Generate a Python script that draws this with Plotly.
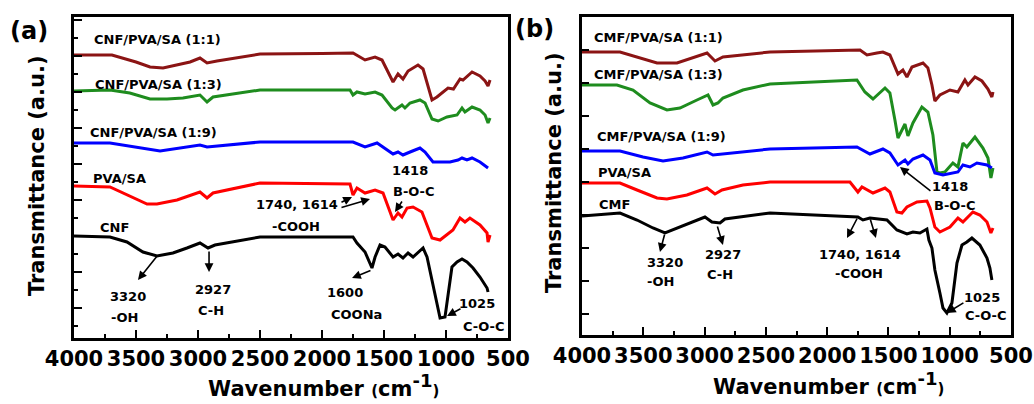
import plotly.graph_objects as go

# ---------------- Panel (a) data: wavenumber (cm-1) and transmittance (a.u., offset) -------------
a_11_wn = [4000, 3694, 3500, 3387, 3282, 3169, 3064, 2984, 2927, 2847, 2500, 2000, 1750, 1653, 1572, 1516,
           1427, 1387, 1347, 1306, 1226, 1185, 1113, 1073, 984, 940, 887, 863, 790, 726, 685, 661, 645]
a_11_t = [283, 283, 276, 271, 270, 273, 276, 280, 275, 277, 284, 284.5, 285, 278, 281, 278,
          256, 264, 259, 267, 273, 269, 238, 241, 250, 249, 259, 258, 266, 262, 257, 252, 258]

a_13_wn = [4000, 3710, 3550, 3387, 3250, 3121, 2984, 2927, 2879, 2500, 1774, 1750, 1718, 1653, 1572, 1516,
           1435, 1411, 1355, 1331, 1290, 1210, 1169, 1113, 1064, 992, 911, 871, 847, 790, 726, 685, 661, 645]
a_13_t = [247, 248, 245, 239, 239, 240, 243, 236, 241, 248, 248, 243, 246, 244, 246, 243,
          230, 228, 233, 230, 235, 238, 235, 219, 217, 221, 223, 230, 226, 231, 228, 223, 215, 220]

a_19_wn = [4000, 3710, 3306, 2984, 2927, 2500, 1750, 1653, 1556, 1508, 1427, 1387, 1347, 1290, 1210, 1169,
           1105, 968, 903, 871, 831, 790, 726, 661]
a_19_t = [195, 195, 187, 193, 191, 196, 196, 191, 195, 191, 184, 186, 183, 186, 190, 186,
          176, 176, 178, 180, 178, 180, 176, 170]

a_ps_wn = [4000, 3710, 3411, 3331, 3169, 2984, 2927, 2879, 2500, 1774, 1750, 1718, 1653, 1572, 1508, 1427,
           1387, 1355, 1314, 1266, 1194, 1113, 1048, 992, 944, 887, 847, 807, 726, 669, 661, 645]
a_ps_t = [152, 151, 134, 134, 138, 146, 140, 145, 155, 154, 143, 150, 145, 148, 145, 118,
          125, 121, 130, 131, 126, 100, 98, 103, 108, 120, 116, 120, 113, 105, 96, 103]

a_cnf_wn = [4000, 3710, 3573, 3444, 3331, 3202, 3089, 2984, 2919, 2863, 2500, 2000, 1750, 1718, 1653, 1597,
            1572, 1532, 1492, 1427, 1387, 1347, 1306, 1266, 1185, 1153, 1113, 1073, 1048, 1008, 984, 952,
            911, 871, 831, 782, 726, 669, 661]
a_cnf_t = [102, 101, 96, 86, 82, 85, 90, 95, 90, 93, 101, 101, 101, 95, 86, 70,
           81, 93, 91, 81, 84, 80, 85, 81, 90, 81, 58, 36, 20, 21, 45, 71,
           76, 79, 76, 70, 61, 50, 46]

# ---------------- Panel (b) data -------------
b_11_wn = [4000, 3690, 3388, 3225, 2980, 2915, 2850, 2466, 1732, 1675, 1594, 1545, 1488, 1422, 1382, 1349,
           1308, 1218, 1178, 1145, 1121, 1080, 998, 933, 876, 851, 794, 737, 688, 656, 647]
b_11_t = [283, 283, 272, 272, 282, 274, 278, 283, 285, 280, 282, 283, 280, 261, 265, 258,
          268, 272, 267, 250, 234, 240, 245, 243, 255, 250, 258, 254, 246, 238, 243]

b_13_wn = [4000, 3715, 3584, 3445, 3307, 3201, 3062, 2972, 2931, 2891, 2850, 2687, 2466, 1757, 1692, 1626,
           1528, 1488, 1447, 1422, 1365, 1341, 1300, 1227, 1178, 1137, 1104, 1080, 1039, 974, 933, 892,
           860, 794, 729, 688, 664, 647]
b_13_t = [250, 250, 245, 232, 225, 227, 235, 240, 230, 232, 237, 245, 251, 255, 243, 236,
          247, 242, 215, 197, 211, 199, 212, 228, 223, 200, 163, 162, 163, 172, 168, 192,
          188, 198, 187, 177, 157, 167]

b_19_wn = [4000, 3690, 3502, 3339, 3176, 2980, 2931, 2466, 1757, 1651, 1545, 1488, 1422, 1365, 1341, 1300,
           1218, 1161, 1121, 1055, 933, 892, 835, 778, 696, 656]
b_19_t = [184, 184, 178, 174, 177, 183, 180, 186, 188, 181, 186, 182, 170, 175, 171, 176,
          180, 175, 162, 160, 163, 170, 168, 172, 170, 167]

b_ps_wn = [4000, 3690, 3551, 3388, 3307, 3144, 2980, 2915, 2858, 2687, 2466, 1814, 1749, 1716, 1626, 1528,
           1488, 1431, 1390, 1349, 1267, 1186, 1161, 1121, 1080, 998, 933, 892, 811, 754, 696, 664, 647]
b_ps_t = [152, 152, 145, 137, 136, 140, 147, 141, 145, 150, 153, 153, 143, 148, 142, 147,
          143, 123, 122, 128, 133, 134, 127, 108, 103, 108, 117, 113, 123, 120, 113, 102, 107]

b_cmf_wn = [4000, 3690, 3551, 3421, 3323, 3225, 3095, 2997, 2940, 2874, 2834, 2466, 1749, 1708, 1651, 1512,
            1431, 1349, 1300, 1243, 1186, 1170, 1145, 1121, 1080, 1055, 1023, 982, 941, 900, 860, 819,
            754, 696, 672, 656]
b_cmf_t = [119, 122, 115, 107, 102, 107, 113, 118, 113, 112, 116, 122, 118, 115, 117, 115,
           105, 101, 103, 102, 106, 95, 87, 65, 42, 27, 22, 32, 72, 90, 93, 97,
           90, 77, 67, 55]

x_tickvals = [4000, 3500, 3000, 2500, 2000, 1500, 1000, 500]
x_ticklabels = ["4000", "3500", "3000", "2500", "2000", "1500", "1000", "500"]

series_a = [("CNF/PVA/SA (1:1)", a_11_wn, a_11_t, "#8B1414"),
            ("CNF/PVA/SA (1:3)", a_13_wn, a_13_t, "#1E8C1E"),
            ("CNF/PVA/SA (1:9)", a_19_wn, a_19_t, "#0000FF"),
            ("PVA/SA", a_ps_wn, a_ps_t, "#FF0000"),
            ("CNF", a_cnf_wn, a_cnf_t, "#000000")]
series_b = [("CMF/PVA/SA (1:1)", b_11_wn, b_11_t, "#8B1414"),
            ("CMF/PVA/SA (1:3)", b_13_wn, b_13_t, "#1E8C1E"),
            ("CMF/PVA/SA (1:9)", b_19_wn, b_19_t, "#0000FF"),
            ("PVA/SA", b_ps_wn, b_ps_t, "#FF0000"),
            ("CMF", b_cmf_wn, b_cmf_t, "#000000")]

# label positions (wavenumber, transmittance)
labels_a = [("CNF/PVA/SA (1:1)", 3855, 299), ("CNF/PVA/SA (1:3)", 3847, 254),
            ("CNF/PVA/SA (1:9)", 3887, 206), ("PVA/SA", 3863, 160), ("CNF", 3806, 111)]
labels_b = [("CMF/PVA/SA (1:1)", 3918, 298), ("CMF/PVA/SA (1:3)", 3918, 261),
            ("CMF/PVA/SA (1:9)", 3894, 199), ("PVA/SA", 3886, 163), ("CMF", 3878, 131)]

notes_a = [("3320", 3564, 42), ("-OH", 3589, 21), ("2927", 2879, 49), ("C-H", 2895, 28),
           ("1600", 1814, 46), ("COONa", 1718, 24), ("1025", 750, 35), ("C-O-C", 701, 12),
           ("1740, 1614", 2202, 134), ("-COOH", 2210, 112), ("1418", 1290, 168), ("B-O-C", 1258, 147)]
notes_b = [("3320", 3323, 73), ("-OH", 3356, 54), ("2927", 2850, 81), ("C-H", 2874, 61),
           ("1740, 1614", 1732, 81), ("-COOH", 1741, 62), ("1418", 998, 149), ("B-O-C", 957, 130),
           ("1025", 737, 38), ("C-O-C", 705, 20)]

# arrows: (head wn, head T, tail wn, tail T)
arrows_a = [(3484, 58, 3323, 83), (2911, 66, 2911, 88), (1758, 60, 1597, 68), (992, 22, 871, 30),
            (1758, 141, 1855, 135), (1613, 139, 1855, 130), (1411, 126, 1347, 138)]
arrows_b = [(3364, 83, 3323, 102), (2850, 90, 2899, 110), (1838, 97, 1749, 118), (1602, 97, 1651, 117),
            (1406, 168, 1145, 143), (1023, 22, 876, 33)]

FONT = "DejaVu Sans"
W, H = 1034, 404

fig = go.Figure()
for name, wn, t, c in series_a:
    fig.add_trace(go.Scatter(x=wn, y=t, mode="lines", name=name, line=dict(color=c, width=3),
                             xaxis="x", yaxis="y", showlegend=False))
for name, wn, t, c in series_b:
    fig.add_trace(go.Scatter(x=wn, y=t, mode="lines", name=name, line=dict(color=c, width=3),
                             xaxis="x2", yaxis="y2", showlegend=False))

ann = []
def txt(s, x, y, xr, yr, size=13, xanchor="center"):
    ann.append(dict(text=s, x=x, y=y, xref=xr, yref=yr, showarrow=False, xanchor=xanchor,
                    yanchor="middle", font=dict(family=FONT, size=size, color="black", weight="bold")))

for s, x, y in labels_a:
    txt(s, x, y, "x", "y", xanchor="left")
for s, x, y in labels_b:
    txt(s, x, y, "x2", "y2", xanchor="left")
for s, x, y in notes_a:
    txt(s, x, y, "x", "y")
for s, x, y in notes_b:
    txt(s, x, y, "x2", "y2")

def arr(hx, hy, tx, ty, xr, yr):
    ann.append(dict(text="", x=hx, y=hy, ax=tx, ay=ty, xref=xr, yref=yr, axref=xr, ayref=yr,
                    showarrow=True, arrowhead=2, arrowsize=1.1, arrowwidth=1.6, arrowcolor="black"))

for a in arrows_a:
    arr(*a, "x", "y")
for a in arrows_b:
    arr(*a, "x2", "y2")

# panel letters and axis titles (paper coordinates)
def ptxt(s, px, py, size, angle=0):
    ann.append(dict(text=s, x=px / W, y=1 - py / H, xref="paper", yref="paper", showarrow=False,
                    xanchor="center", yanchor="middle", textangle=angle,
                    font=dict(family=FONT, size=size, color="black", weight="bold")))

ptxt("(a)", 29, 31, 24)
ptxt("(b)", 534, 29, 24)
ptxt("Transmittance (a.u.)", 37, 176, 21, -90)
ptxt("Transmittance (a.u.)", 554, 173, 21, -90)
xt = "Wavenumber <span style='font-size:15px'>(</span>cm<sup><span style='font-size:18px'>-1</span></sup><span style='font-size:15px'>)</span>"
ptxt(xt, 323, 385, 21)
ptxt(xt, 828, 383, 21)
fig.update_layout(annotations=ann)

xa = dict(range=[4000, 500], tickvals=x_tickvals, ticktext=x_ticklabels, ticks="inside", ticklen=8,
          tickwidth=2, tickcolor="black", showline=True, linewidth=3, linecolor="black", mirror=True,
          showgrid=False, zeroline=False, tickangle=0, automargin=False,
          minor=dict(ticks="inside", ticklen=4, tickwidth=2, tickcolor="black", dtick=250, tick0=500),
          tickfont=dict(family=FONT, size=21, color="black", weight="bold"))

fig.update_layout(
    width=W, height=H, margin=dict(l=0, r=0, t=0, b=0, autoexpand=False),
    paper_bgcolor="white", plot_bgcolor="white",
    xaxis=dict(xa, domain=[74 / W, 508 / W], anchor="y"),
    xaxis2=dict(xa, domain=[582 / W, 1011 / W], anchor="y2"),
    yaxis=dict(range=[0, 321], domain=[1 - 338 / H, 1 - 17 / H], anchor="x", showticklabels=False,
               ticks="inside", tick0=30, dtick=36, ticklen=8, tickwidth=2, tickcolor="black", automargin=False,
               minor=dict(ticks="inside", ticklen=4, tickwidth=2, tickcolor="black", dtick=18, tick0=12),
               showline=True, linewidth=3, linecolor="black", mirror=True, showgrid=False, zeroline=False),
    yaxis2=dict(range=[0, 318], domain=[1 - 335 / H, 1 - 17 / H], anchor="x2", showticklabels=False,
                ticks="inside", tick0=21, dtick=33, ticklen=7, tickwidth=2, tickcolor="black", automargin=False,
                showline=True, linewidth=3, linecolor="black", mirror=True, showgrid=False, zeroline=False),
    font=dict(family=FONT, color="black"),
)

fig.write_html("out.html", config={"displayModeBar": False},
               post_script="document.body.style.margin='0';document.body.style.overflow='hidden';")
